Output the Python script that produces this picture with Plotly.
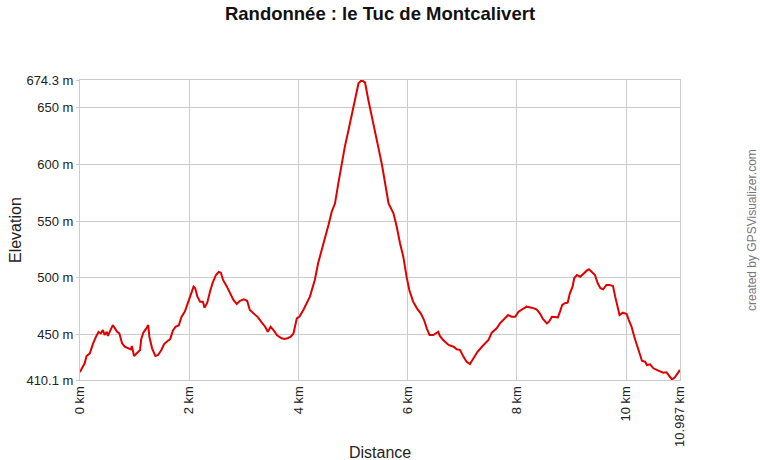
import plotly.graph_objects as go

distance_km = [0.0, 0.01, 0.086, 0.12, 0.18, 0.24, 0.30, 0.34, 0.38, 0.42, 0.45, 0.49, 0.51, 0.55, 0.60, 0.64, 0.68, 0.72,
               0.77, 0.82, 0.89, 0.93, 0.95, 0.99, 1.05, 1.10, 1.12, 1.16, 1.21, 1.25, 1.27, 1.32, 1.38, 1.43, 1.49,
               1.54, 1.61, 1.65, 1.70, 1.75, 1.81, 1.86, 1.92, 1.98, 2.03, 2.08, 2.11, 2.15, 2.20, 2.25, 2.28, 2.33,
               2.38, 2.43, 2.49, 2.54, 2.58, 2.62, 2.69, 2.75, 2.81, 2.87, 2.93, 3.00, 3.06, 3.11, 3.17, 3.26, 3.33,
               3.39, 3.44, 3.49, 3.55, 3.61, 3.69, 3.75, 3.81, 3.86, 3.91, 3.97, 4.02, 4.09, 4.21, 4.30, 4.36, 4.43,
               4.49, 4.55, 4.61, 4.67, 4.73, 4.79, 4.85, 4.91, 4.98, 5.04, 5.10, 5.16, 5.22, 5.28, 5.34, 5.40, 5.46,
               5.53, 5.59, 5.65, 5.74, 5.80, 5.86, 5.92, 5.98, 6.03, 6.10, 6.17, 6.24, 6.30, 6.35, 6.40, 6.47, 6.56,
               6.59, 6.65, 6.75, 6.84, 6.90, 6.96, 7.02, 7.08, 7.14, 7.20, 7.28, 7.36, 7.42, 7.48, 7.54, 7.63, 7.69,
               7.77, 7.84, 7.90, 7.97, 8.03, 8.09, 8.18, 8.27, 8.36, 8.42, 8.48, 8.55, 8.59, 8.64, 8.70, 8.75, 8.79,
               8.83, 8.88, 8.93, 8.97, 9.02, 9.05, 9.10, 9.16, 9.22, 9.28, 9.32, 9.37, 9.43, 9.48, 9.53, 9.58, 9.64,
               9.70, 9.76, 9.80, 9.84, 9.88, 9.94, 10.01, 10.05, 10.10, 10.15, 10.21, 10.26, 10.29, 10.35, 10.38,
               10.44, 10.50, 10.59, 10.68, 10.74, 10.80, 10.84, 10.89, 10.94, 10.987]
elevation_m = [417.0, 418.3, 424.8, 431.2, 433.6, 442.4, 448.9, 452.4, 451.2, 454.1, 449.7, 452.6, 448.9, 452.6, 458.5,
               455.6, 452.6, 451.2, 442.4, 439.4, 438.0, 437.1, 440.0, 431.2, 434.1, 436.5, 446.0, 451.8, 455.3, 458.5,
               448.3, 438.0, 431.2, 432.1, 436.5, 441.8, 444.7, 446.0, 453.5, 457.0, 458.3, 465.8, 470.3, 478.2, 486.4,
               492.3, 490.9, 483.5, 479.1, 479.1, 473.8, 478.2, 487.9, 495.8, 502.6, 505.2, 504.6, 498.2, 492.3, 486.4,
               480.6, 477.0, 479.9, 481.2, 479.9, 471.7, 468.8, 465.3, 460.6, 457.0, 452.6, 457.0, 453.5, 449.5, 446.8,
               446.2, 447.1, 448.2, 451.2, 464.4, 466.0, 471.7, 483.5, 498.2, 512.9, 524.6, 536.3, 546.6, 558.3, 565.7,
               583.3, 600.9, 615.6, 628.8, 645.0, 659.6, 671.4, 674.3, 672.0, 656.7, 642.0, 627.4, 615.6, 599.4, 581.8,
               565.7, 556.9, 545.1, 530.5, 518.7, 501.1, 489.4, 479.1, 473.2, 468.8, 462.9, 455.6, 449.7, 449.7, 452.6,
               448.9, 445.3, 441.0, 439.4, 437.1, 436.5, 430.7, 426.2, 424.2, 429.2, 435.0, 439.4, 442.4, 445.3, 451.8,
               455.6, 460.0, 464.4, 467.3, 465.8, 465.8, 470.3, 472.3, 474.7, 473.8, 472.3, 468.8, 463.6, 460.0, 461.5,
               465.8, 465.8, 465.3, 470.3, 476.2, 477.7, 478.2, 486.4, 492.3, 499.7, 502.6, 501.1, 504.1, 506.4, 507.6,
               505.5, 502.6, 495.3, 490.9, 490.0, 493.8, 493.8, 492.9, 483.5, 474.7, 467.3, 469.4, 468.2, 462.9, 457.0,
               448.2, 439.4, 433.6, 427.1, 426.2, 423.3, 423.9, 420.4, 418.3, 416.5, 416.9, 412.5, 410.6, 412.2, 415.5,
               419.0]

x_tick_vals = [0, 2, 4, 6, 8, 10, 10.987]
x_tick_text = ["0 km", "2 km", "4 km", "6 km", "8 km", "10 km", "10.987 km"]
y_tick_vals = [410.1, 450, 500, 550, 600, 650, 674.3]
y_tick_text = ["410.1 m", "450 m", "500 m", "550 m", "600 m", "650 m", "674.3 m"]

FONT = "Arial, Liberation Sans, sans-serif"

fig = go.Figure()
fig.add_trace(go.Scatter(x=distance_km, y=elevation_m, mode="lines",
                         line=dict(color="#e00000", width=2), hoverinfo="x+y"))

fig.update_layout(
    width=760, height=460,
    margin=dict(l=80, r=80, t=80, b=80),
    paper_bgcolor="white", plot_bgcolor="white",
    showlegend=False,
    font=dict(family=FONT, size=13, color="#222"),
    title=dict(text="<b>Randonnée : le Tuc de Montcalivert</b>", x=0.5, xanchor="center",
               y=1 - 14 / 460, yanchor="middle", font=dict(size=18.5, color="#111", family=FONT)),
    xaxis=dict(range=[0, 10.987], tickvals=x_tick_vals, ticktext=x_tick_text, tickangle=-90,
               showgrid=True, gridcolor="#cccccc", gridwidth=1, zeroline=False,
               showline=True, linecolor="#cccccc", linewidth=1, mirror=True,
               ticks="", automargin=False, tickfont=dict(size=13, color="#222")),
    yaxis=dict(range=[410.1, 674.3], tickvals=y_tick_vals, ticktext=y_tick_text,
               showgrid=True, gridcolor="#cccccc", gridwidth=1, zeroline=False,
               showline=True, linecolor="#cccccc", linewidth=1, mirror=True,
               ticks="outside", ticklen=3, tickcolor="#cccccc", automargin=False,
               tickfont=dict(size=13, color="#222")),
    annotations=[
        dict(text="Distance", xref="paper", yref="paper", x=0.5, y=-(452 - 380) / 300,
             xanchor="center", yanchor="middle", showarrow=False, font=dict(size=16, color="#222")),
        dict(text="Elevation", xref="paper", yref="paper", x=-(80 - 15) / 600, y=0.5,
             xanchor="center", yanchor="middle", showarrow=False, textangle=-90,
             font=dict(size=16, color="#222")),
        dict(text="created by GPSVisualizer.com", xref="paper", yref="paper", x=1 + (752 - 680) / 600,
             y=(380 - 230) / 300, xanchor="center", yanchor="middle", showarrow=False, textangle=-90,
             font=dict(size=12, color="#777")),
    ],
)

fig.write_html("out.html", config={"displayModeBar": False},
               post_script="document.body.style.margin='0px';document.body.style.overflow='hidden';")
